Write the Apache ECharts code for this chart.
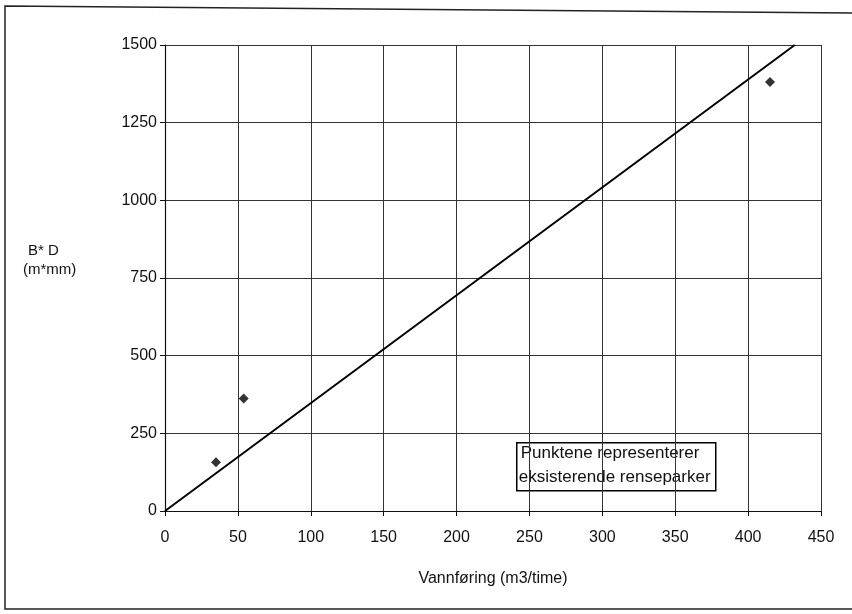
<!DOCTYPE html>
<html><head><meta charset="utf-8">
<script src="https://cdn.jsdelivr.net/npm/echarts@6/dist/echarts.min.js"></script>
<style>html,body{margin:0;padding:0;background:#fff}#c{width:852px;height:614px}</style>
</head><body><div id="c"></div>
<script>
var xTicks = [0, 50, 100, 150, 200, 250, 300, 350, 400, 450];
var yTicks = [0, 250, 500, 750, 1000, 1250, 1500];
var pointsX = [35, 54, 415];
var pointsY = [157, 362, 1381];
var lineX = [0, 432];
var lineY = [0, 1500];
var xTitle = 'Vannføring (m3/time)';
var yTitle = ['B* D', '(m*mm)'];
var noteLines = ['Punktene representerer', 'eksisterende renseparker'];

var font = '"Liberation Sans", Arial, sans-serif';
var chart = echarts.init(document.getElementById('c'), null, {renderer: 'canvas'});
chart.setOption({
  animation: false,
  backgroundColor: '#fff',
  grid: {left: 165, top: 45, right: 31, bottom: 103, containLabel: false},
  xAxis: {
    type: 'value', min: xTicks[0], max: xTicks[xTicks.length - 1], interval: 50,
    name: xTitle, nameLocation: 'middle', nameGap: 60,
    nameTextStyle: {fontFamily: font, fontSize: 16, color: '#111'},
    axisLine: {show: true, onZero: false, lineStyle: {color: '#111', width: 1.2}},
    axisTick: {show: true, inside: false, length: 5, lineStyle: {color: '#111'}},
    axisLabel: {margin: 19, fontFamily: font, fontSize: 16, color: '#111',
      formatter: function (v) { return String(v); }},
    splitLine: {show: true, lineStyle: {color: '#333', width: 1}}
  },
  yAxis: {
    type: 'value', min: yTicks[0], max: yTicks[yTicks.length - 1], interval: 250,
    axisLine: {show: true, onZero: false, lineStyle: {color: '#111', width: 1.2}},
    axisTick: {show: true, inside: false, length: 5, lineStyle: {color: '#111'}},
    axisLabel: {margin: 8, fontFamily: font, fontSize: 16, color: '#111',
      formatter: function (v) { return String(v); }},
    splitLine: {show: true, lineStyle: {color: '#333', width: 1}}
  },
  series: [
    {
      type: 'line', data: lineX.map(function (x, i) { return [x, lineY[i]]; }),
      symbol: 'none', lineStyle: {color: '#000', width: 2}, z: 3
    },
    {
      type: 'scatter', data: pointsX.map(function (x, i) { return [x, pointsY[i]]; }),
      symbol: 'diamond', symbolSize: 10, itemStyle: {color: '#000'}, z: 4
    }
  ],
  graphic: [
    {type: 'polyline', shape: {points: [[852, 13], [5, 6], [5, 609], [852, 609]]},
     style: {stroke: '#222', lineWidth: 1.5, fill: null}, silent: true},
    {type: 'text', left: 28, top: 243, style: {text: yTitle[0], font: '15px ' + font, fill: '#111'}},
    {type: 'text', left: 23, top: 262, style: {text: yTitle[1], font: '15px ' + font, fill: '#111'}},
    {type: 'group', left: 516, top: 442, z: 10, children: [
      {type: 'rect', shape: {x: 0, y: 0, width: 199, height: 48},
       style: {fill: '#fff', stroke: '#000', lineWidth: 1.5}},
      {type: 'text', left: 4, top: 2, style: {text: noteLines[0], font: '17px ' + font, fill: '#111'}},
      {type: 'text', left: 2, top: 26, style: {text: noteLines[1], font: '17px ' + font, fill: '#111'}}
    ]}
  ]
});
</script></body></html>
